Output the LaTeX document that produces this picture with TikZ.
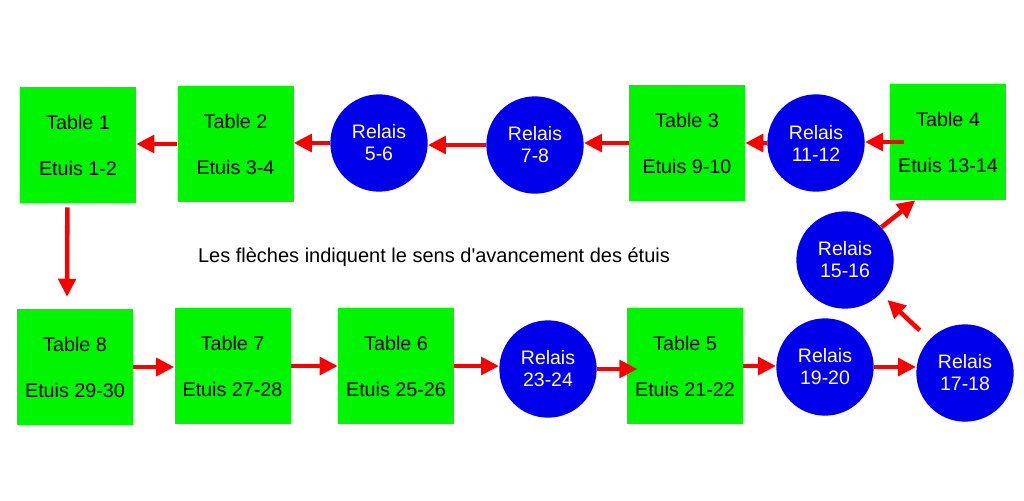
\documentclass[tikz,border=0pt]{standalone}
\usepackage{fontspec}
\setmainfont{Liberation Sans}
\usetikzlibrary{arrows.meta,calc}
\definecolor{vert}{RGB}{0,245,0}
\definecolor{bleu}{RGB}{0,0,235}
\definecolor{rouge}{RGB}{250,0,0}
\tikzset{
  tablebox/.style={fill=vert,minimum size=87pt,inner sep=0pt,align=center,
    font=\fontsize{14.8}{34.5}\selectfont},
  relais/.style={circle,fill=bleu,text=white,minimum size=73pt,inner sep=0pt,align=center,
    font=\fontsize{14.6}{16.5}\selectfont},
  fleche/.style={draw=rouge,line width=3.4pt,-{Triangle[length=13.5pt,width=13pt]}}
}
\begin{document}
\begin{tikzpicture}[x=0.75pt,y=-0.75pt]
\useasboundingbox (0,0) rectangle (1024,500);

%top row
\node[tablebox] (t1) at (78,145) {Table 1\\Etuis 1-2};
\node[tablebox] (t2) at (235.5,144) {Table 2\\Etuis 3-4};
\node[relais] (r56) at (379,143) {Relais\\5-6};
\node[relais] (r78) at (535,145) {Relais\\7-8};
\node[tablebox] (t3) at (687,143) {Table 3\\Etuis 9-10};
\node[relais] (r1112) at (816,143) {Relais\\11-12};
\node[tablebox] (t4) at (948,142) {Table 4\\Etuis 13-14};

%right side
\node[relais] (r1516) at (845,260) {Relais\\15-16};
\node[relais] (r1718) at (965,373) {Relais\\17-18};

%bottom row
\node[relais] (r1920) at (825,367) {Relais\\19-20};
\node[tablebox] (t5) at (685,366) {Table 5\\Etuis 21-22};
\node[relais] (r2324) at (548,369) {Relais\\23-24};
\node[tablebox] (t6) at (396,366) {Table 6\\Etuis 25-26};
\node[tablebox] (t7) at (232.5,366) {Table 7\\Etuis 27-28};
\node[tablebox] (t8) at (75,367) {Table 8\\Etuis 29-30};

\node[font=\fontsize{15}{17}\selectfont] (legende) at (434,257) {Les flèches indiquent le sens d\textquotesingle avancement des étuis};

%arrows
\draw[fleche] (t2.west) -- (t2.west -| t1.east);
\draw[fleche] (r56.west) -- (r56.west -| t2.east);
\draw[fleche] (r78.west) -- (r78.west -| r56.east);
\draw[fleche] (t3.west) -- (t3.west -| r78.east);
\draw[fleche] (r1112.west) -- (r1112.west -| t3.east);
\draw[fleche,shorten <=-11pt] (t4.west) -- (t4.west -| r1112.east);
\draw[fleche] (r1516.42) -- ($(t4.south west)!0.22!(t4.south east)$);
\draw[fleche,shorten <=10pt,shorten >=7pt] (r1718) -- (r1516);
\draw[fleche] (r1920.east) -- (r1920.east -| r1718.west);
\draw[fleche] (t5.east) -- (t5.east -| r1920.west);
\draw[fleche,shorten >=-8pt] (r2324.east) -- (r2324.east -| t5.west);
\draw[fleche] (t6.east) -- (t6.east -| r2324.west);
\draw[fleche] (t7.east) -- (t7.east -| t6.west);
\draw[fleche] (t8.east) -- (t8.east -| t7.west);
\draw[fleche,shorten <=3pt,shorten >=9pt] ([xshift=-8pt]t1.south) -- ([xshift=-6pt]t8.north);

\end{tikzpicture}
\end{document}
